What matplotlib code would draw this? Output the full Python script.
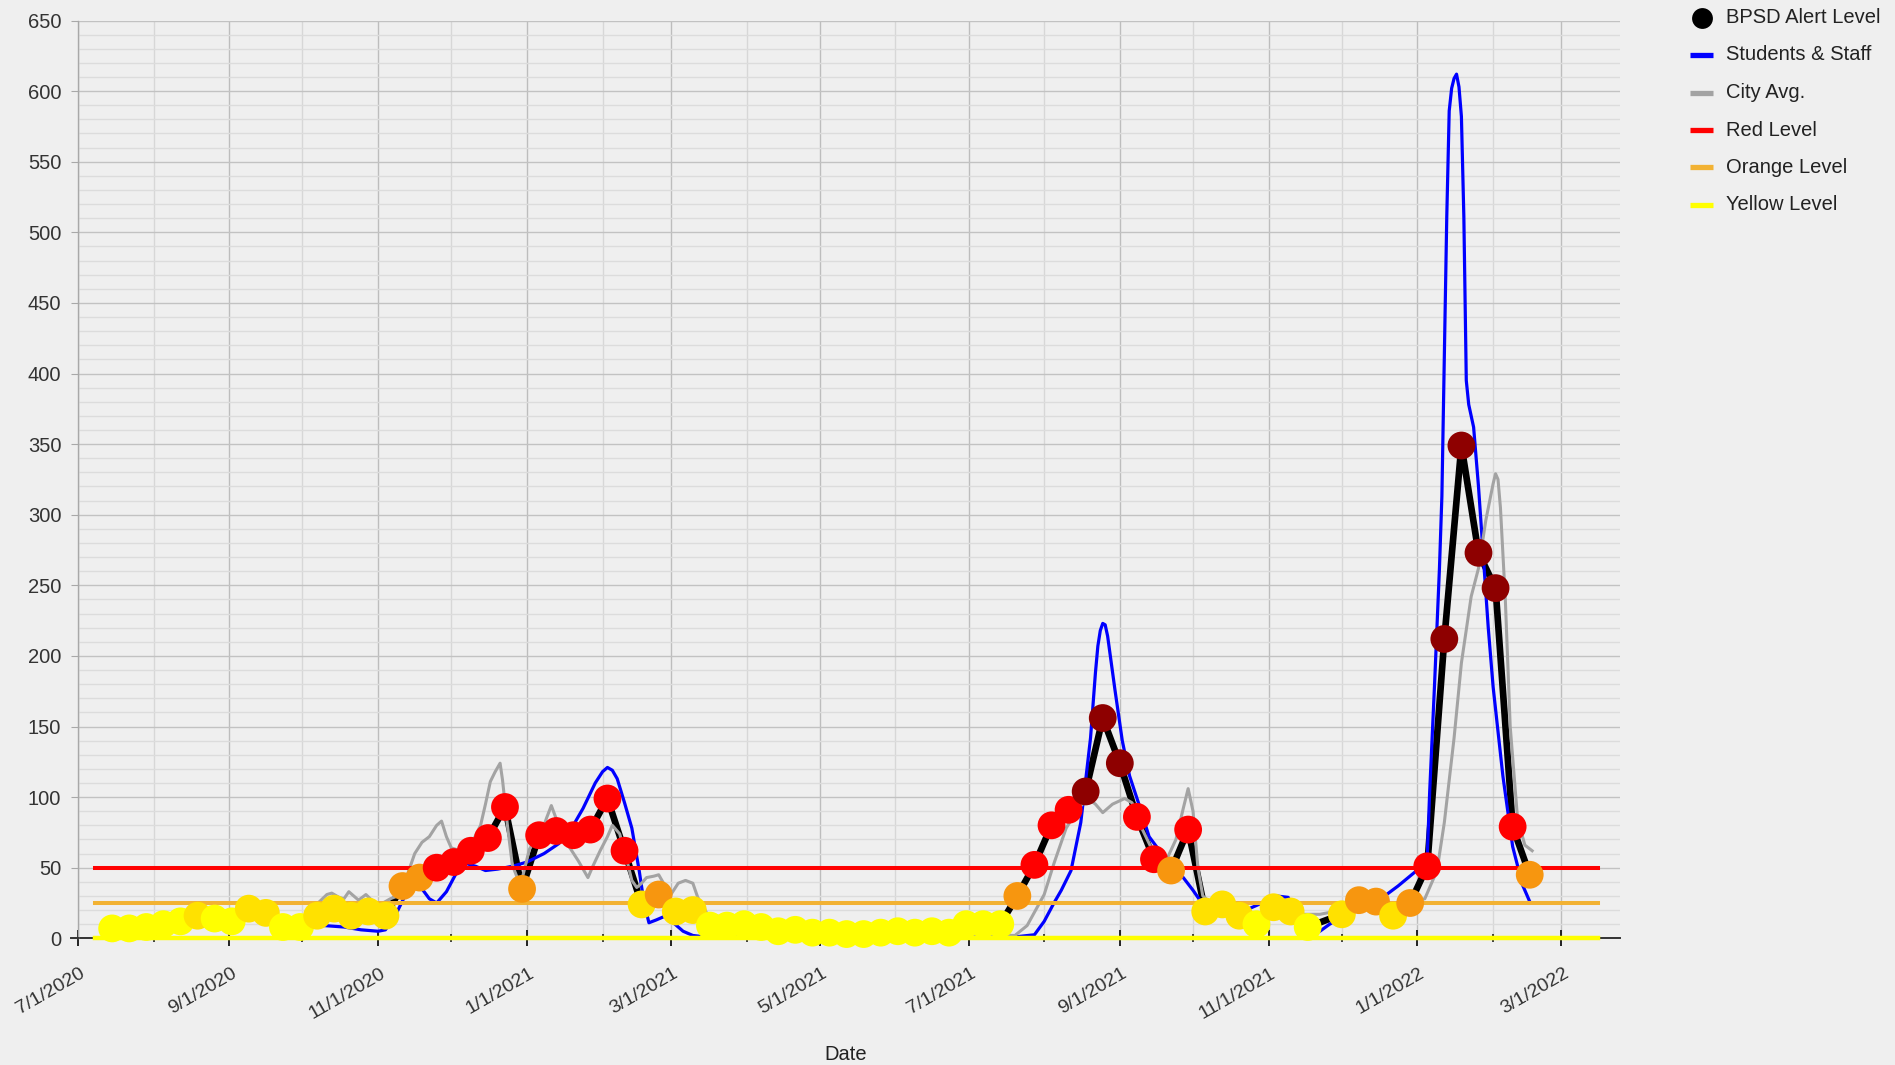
import matplotlib
matplotlib.use("Agg")
import matplotlib.pyplot as plt
import matplotlib.dates as mdates
from matplotlib.lines import Line2D
from matplotlib.transforms import ScaledTranslation
import numpy as np
import pandas as pd

plt.rcParams['font.family'] = ['Liberation Sans', 'DejaVu Sans']

# ---------------- data ----------------
alert_start = "2020-07-15"   # weekly (Wednesdays)
alert_values = [
    7, 7, 8, 10, 12, 16, 14, 12, 21, 18, 8, 8, 16, 21, 16, 19, 16,
    37, 43, 50, 54, 62, 71, 93, 35, 73, 76, 73, 77, 99, 62,
    24, 31, 19, 20,
    9, 9, 10, 8, 5, 6, 4, 4, 3, 3, 4, 5, 4, 5, 4, 10, 10, 10,
    30, 52, 80, 91, 104, 156, 124, 86, 56, 48, 77,
    19, 24, 16, 10, 22, 19, 8, None, 17, 27, 26, 16, 25,
    51, 212, 349, 273, 248, 79, 45,
]

students_dates = [
    "2020-10-10", "2020-10-18", "2020-10-25", "2020-11-01", "2020-11-04", "2020-11-08",
    "2020-11-12", "2020-11-16", "2020-11-19", "2020-11-22", "2020-11-25", "2020-11-29",
    "2020-12-03", "2020-12-07", "2020-12-11", "2020-12-15", "2020-12-20", "2020-12-26",
    "2021-01-01", "2021-01-08", "2021-01-14", "2021-01-19", "2021-01-24", "2021-01-29",
    "2021-02-01", "2021-02-03", "2021-02-05", "2021-02-07", "2021-02-10", "2021-02-13",
    "2021-02-16", "2021-02-18", "2021-02-20", "2021-02-23", "2021-02-27", "2021-03-02",
    "2021-03-06", "2021-03-10", "2021-03-15", "2021-04-15", "2021-06-01", "2021-07-20",
    "2021-07-28", "2021-08-01", "2021-08-05", "2021-08-08", "2021-08-12", "2021-08-16",
    "2021-08-20", "2021-08-22", "2021-08-23", "2021-08-24", "2021-08-25", "2021-08-26",
    "2021-08-27", "2021-08-30", "2021-09-02", "2021-09-05", "2021-09-09", "2021-09-13",
    "2021-09-19", "2021-09-27", "2021-10-01", "2021-10-05", "2021-10-10", "2021-10-20",
    "2021-10-28", "2021-11-04", "2021-11-09", "2021-11-13", "2021-11-18", "2021-11-22",
    "2021-11-26", "2021-12-03", "2021-12-10", "2021-12-17", "2021-12-24", "2021-12-31",
    "2022-01-04", "2022-01-05", "2022-01-06", "2022-01-08", "2022-01-10", "2022-01-11",
    "2022-01-13", "2022-01-14", "2022-01-15", "2022-01-16", "2022-01-17", "2022-01-18",
    "2022-01-19", "2022-01-20", "2022-01-21", "2022-01-22", "2022-01-24", "2022-01-26",
    "2022-01-28", "2022-01-30", "2022-02-01", "2022-02-05", "2022-02-09", "2022-02-13",
    "2022-02-16",
]
students_values = [
    9, 8, 6, 5, 6, 16,
    30, 38, 35, 28, 25, 33,
    46, 53, 51, 48, 49, 51,
    54, 60, 67, 77, 92, 110,
    118, 121, 119, 113, 96, 78,
    48, 25, 11, 13, 16, 11,
    5, 2, 1, 0.5, 0.5, 1,
    2.5, 12, 25, 34, 48, 82,
    142, 188, 207, 218, 223, 222,
    214, 176, 140, 115, 94, 72,
    58, 43, 34, 24, 18, 18,
    24, 30, 29, 15, 6, 5,
    10, 17, 21, 28, 37, 47,
    52, 58, 104, 180, 262, 313,
    511, 586, 602, 609, 612, 603,
    582, 511, 395, 378, 362, 320,
    270, 220, 178, 115, 65, 38,
    26,
]

city_dates = [
    "2020-10-08", "2020-10-11", "2020-10-13", "2020-10-16", "2020-10-18", "2020-10-20",
    "2020-10-22", "2020-10-24", "2020-10-27", "2020-10-30", "2020-11-02", "2020-11-06",
    "2020-11-09", "2020-11-13", "2020-11-16", "2020-11-19", "2020-11-22", "2020-11-25",
    "2020-11-27", "2020-11-29", "2020-12-01", "2020-12-05", "2020-12-09", "2020-12-13",
    "2020-12-15", "2020-12-17", "2020-12-19", "2020-12-21", "2020-12-22", "2020-12-24",
    "2020-12-26", "2020-12-28", "2020-12-30", "2021-01-02", "2021-01-04", "2021-01-07",
    "2021-01-09", "2021-01-11", "2021-01-14", "2021-01-17", "2021-01-19", "2021-01-22",
    "2021-01-25", "2021-01-26", "2021-01-28", "2021-01-31", "2021-02-03", "2021-02-05",
    "2021-02-08", "2021-02-10", "2021-02-13", "2021-02-15", "2021-02-17", "2021-02-19",
    "2021-02-22", "2021-02-24", "2021-02-27", "2021-03-01", "2021-03-04", "2021-03-07",
    "2021-03-10", "2021-03-12", "2021-03-16", "2021-04-01", "2021-05-01", "2021-06-01",
    "2021-07-01", "2021-07-20", "2021-07-25", "2021-08-01", "2021-08-05", "2021-08-10",
    "2021-08-15", "2021-08-19", "2021-08-22", "2021-08-25", "2021-08-29", "2021-09-03",
    "2021-09-06", "2021-09-10", "2021-09-15", "2021-09-20", "2021-09-24", "2021-09-27",
    "2021-09-29", "2021-10-01", "2021-10-03", "2021-10-05", "2021-10-12", "2021-10-25",
    "2021-11-05", "2021-11-15", "2021-11-22", "2021-12-01", "2021-12-15", "2021-12-29",
    "2022-01-04", "2022-01-09", "2022-01-12", "2022-01-16", "2022-01-19", "2022-01-23",
    "2022-01-26", "2022-01-29", "2022-02-01", "2022-02-02", "2022-02-03", "2022-02-04",
    "2022-02-06", "2022-02-08", "2022-02-11", "2022-02-14", "2022-02-17",
]
city_values = [
    26, 31, 32, 29, 28, 33,
    30, 27, 31, 26, 24, 28,
    30, 45, 60, 68, 72, 80,
    83, 72, 64, 62, 66, 80,
    95, 111, 118, 124, 112, 80,
    52, 43, 42, 63, 69, 75,
    85, 94, 80, 68, 63, 55,
    46, 43, 51, 62, 72, 80,
    74, 62, 41, 36, 39, 43,
    44, 45, 36, 31, 39, 41,
    39, 29, 17, 12, 8, 5,
    3, 2, 9, 31, 53, 78,
    92, 99, 95, 89, 95, 99,
    96, 78, 60, 55, 70, 92,
    106, 90, 50, 30, 20, 17,
    20, 17, 17, 20, 22, 26,
    28, 48, 82, 142, 195, 242,
    262, 296, 322, 329, 325, 305,
    240, 150, 85, 66, 62,
]

level_dates = ["2020-07-08", "2022-03-16"]
red_level = [50, 50]
orange_level = [25, 25]
yellow_level = [0, 0]

legend_labels = ["BPSD Alert Level", "Students & Staff", "City Avg.",
                 "Red Level", "Orange Level", "Yellow Level"]

# ---------------- styles ----------------
BG = "#efefef"
C_BLUE = "#0000ff"
C_GREY = "#a3a3a3"
C_RED = "#ff0000"
C_ORANGE = "#f2b233"
C_YELLOW = "#ffff00"


def alert_color(v):
    if v >= 100:
        return "#8e0000"
    if v >= 50:
        return "#ff0000"
    if v >= 25:
        return "#f7960f"
    if v >= 15:
        return "#ffe100"
    return "#ffff00"


W, H = 1895, 1065
fig = plt.figure(figsize=(W / 100, H / 100), dpi=100, facecolor=BG)
L, R, B, T = 78, 1620, 938.3, 20.5
ax = fig.add_axes([L / W, 1 - B / H, (R - L) / W, (B - T) / H], facecolor=BG)

alert_dates = pd.date_range(alert_start, periods=len(alert_values), freq="7D")
a_mask = [v is not None for v in alert_values]
a_d = [d for d, m in zip(alert_dates, a_mask) if m]
a_v = [v for v in alert_values if v is not None]

lv_d = pd.to_datetime(level_dates)
ax.plot(a_d, a_v, color="black", lw=4.8, zorder=3, solid_joinstyle="round")
ax.plot(pd.to_datetime(students_dates), students_values, color=C_BLUE, lw=2.3, zorder=4,
        solid_joinstyle="round")
ax.plot(pd.to_datetime(city_dates), city_values, color=C_GREY, lw=2.2, zorder=5,
        solid_joinstyle="round")
ax.plot(lv_d, red_level, color=C_RED, lw=2.9, zorder=6, clip_on=False)
ax.plot(lv_d, orange_level, color=C_ORANGE, lw=2.9, zorder=6, clip_on=False)
ax.plot(lv_d, yellow_level, color=C_YELLOW, lw=3.2, zorder=6, clip_on=False)
ax.scatter(a_d, a_v, s=20 ** 2, c=[alert_color(v) for v in a_v],
           linewidths=0, zorder=10, clip_on=False)

# ---------------- axes ----------------
ax.set_xlim(pd.Timestamp("2020-07-01"), pd.Timestamp("2022-03-25"))
ax.set_ylim(0, 650)
ax.xaxis.set_major_locator(mdates.MonthLocator(bymonth=[1, 3, 5, 7, 9, 11]))
ax.xaxis.set_minor_locator(mdates.MonthLocator())
ax.xaxis.set_major_formatter(plt.FuncFormatter(
    lambda x, p: (lambda d: f"{d.month}/{d.day}/{d.year}")(mdates.num2date(x))))
ax.set_yticks(np.arange(0, 651, 50))
ax.set_yticks(np.arange(0, 651, 10), minor=True)

ax.set_axisbelow(True)
ax.grid(which="major", axis="x", color="#bdbdbd", lw=1.0)
ax.grid(which="minor", axis="x", color="#d7d7d7", lw=1.0)
ax.grid(which="major", axis="y", color="#c2c2c2", lw=1.0)
ax.grid(which="minor", axis="y", color="#dcdcdc", lw=1.0)

for s in ["top", "right"]:
    ax.spines[s].set_visible(False)
ax.spines["left"].set_color("#a8a8a8")
ax.spines["left"].set_linewidth(1.0)
ax.spines["bottom"].set_color("#333333")
ax.spines["bottom"].set_linewidth(1.4)
ax.spines["bottom"].set_zorder(2)

ax.tick_params(axis="y", which="major", length=5, color="#a8a8a8", pad=7,
               labelsize=14.5, labelcolor="#333333")
ax.tick_params(axis="y", which="minor", length=0)
ax.tick_params(axis="x", which="major", direction="inout", length=11, width=1.4,
               color="#222222", labelsize=14, labelcolor="#333333", pad=19)
ax.tick_params(axis="x", which="minor", direction="inout", length=6, width=1.2,
               color="#222222")
shift = ScaledTranslation(6 / 100, 0, fig.dpi_scale_trans)
for lab in ax.get_xticklabels():
    lab.set_rotation(30)
    lab.set_rotation_mode("anchor")
    lab.set_ha("right")
    lab.set_va("center")
    lab.set_transform(lab.get_transform() + shift)

ax.set_xlabel("Date", fontsize=14.5, color="#222222")
ax.xaxis.set_label_coords(0.498, (938.3 - 1054) / (938.3 - 20.5))
ax.xaxis.label.set_va("center")

# small extension of the x axis to the left of the y axis
fig.add_artist(Line2D([71 / W, L / W], [1 - B / H, 1 - B / H], color="#333333", lw=1.4))

# ---------------- legend (manual, outside plot) ----------------
row_y = [17.5, 55, 92.5, 130, 167.5, 205]
handles = [("marker", "black"), ("line", C_BLUE), ("line", C_GREY),
           ("line", C_RED), ("line", C_ORANGE), ("line", C_YELLOW)]
for (kind, col), lab, yy in zip(handles, legend_labels, row_y):
    fy = 1 - yy / H
    if kind == "marker":
        fig.add_artist(Line2D([1702 / W], [fy], marker="o", ms=15, color=col, mew=0, ls="none"))
    else:
        fig.add_artist(Line2D([1690 / W, 1713 / W], [fy, fy], color=col, lw=3.8,
                              solid_capstyle="butt"))
    fig.text(1726 / W, fy, lab, fontsize=14.5, color="#222222", va="center", ha="left")

fig.savefig("out.png", dpi=100, facecolor=BG)
